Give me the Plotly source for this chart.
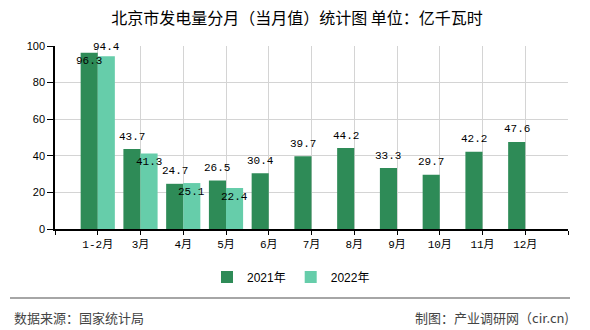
import plotly.graph_objects as go

# ---- data ----
categories = ["1-2月", "3月", "4月", "5月", "6月", "7月", "8月", "9月", "10月", "11月", "12月"]
values_2021 = [96.3, 43.7, 24.7, 26.5, 30.4, 39.7, 44.2, 33.3, 29.7, 42.2, 47.6]
values_2022 = [94.4, 41.3, 25.1, 22.4, None, None, None, None, None, None, None]
series_names = ["2021年", "2022年"]
y_ticks = [0, 20, 40, 60, 80, 100]

title_text = "北京市发电量分月（当月值）统计图 单位：亿千瓦时"
source_text = "数据来源：国家统计局"
maker_text = "制图：产业调研网（cir.cn)"

# ---- style ----
colors = ["#2E8B57", "#66CDAA"]
W, H = 590, 330
L, R, T, B = 55, 22, 46, 101
plot_w, plot_h = W - L - R, H - T - B

def px_x(p):
    return (p - L) / plot_w

def px_y(p):
    return (H - B - p) / plot_h

xs = list(range(len(categories)))
label_font = dict(family="Liberation Mono, Noto Sans CJK SC", size=11, color="#000")

fig = go.Figure()
for name, vals, col in zip(series_names, [values_2021, values_2022], colors):
    fig.add_trace(go.Bar(x=xs, y=vals, name=name, marker=dict(color=col, line=dict(width=0))))

# value labels (default offsets in px; first group adjusted as in the reference)
shift_default = [12.5, -8.5]
shift_special = {(0, 0): -8.5, (1, 0): 9}
offsets = [-0.2, 0.2]
annotations = []
for s, vals in enumerate([values_2021, values_2022]):
    for i, v in enumerate(vals):
        if v is None:
            continue
        annotations.append(dict(
            x=xs[i] + offsets[s], y=v, xref="x", yref="y", text=f"{v}",
            showarrow=False, xanchor="center", yanchor="middle",
            yshift=shift_special.get((s, i), shift_default[s]), font=label_font))

annotations.append(dict(x=px_x(12), y=px_y(317), xref="paper", yref="paper", text=source_text,
                        showarrow=False, xanchor="left", yanchor="middle",
                        font=dict(family="Noto Sans CJK SC", size=13, color="#444")))
annotations.append(dict(x=px_x(571), y=px_y(317), xref="paper", yref="paper", text=maker_text,
                        showarrow=False, xanchor="right", yanchor="middle",
                        font=dict(family="Noto Sans CJK SC", size=13, color="#444")))

shapes = [
    dict(type="line", xref="paper", yref="paper", x0=px_x(10), x1=px_x(570), y0=px_y(298), y1=px_y(298),
         line=dict(color="#888", width=1.5)),
]

tickvals = [-1] + xs + [len(xs)]
ticktext = [""] + categories + [""]

fig.update_layout(
    width=W, height=H,
    margin=dict(l=L, r=R, t=T, b=B, pad=0),
    paper_bgcolor="white", plot_bgcolor="white",
    barmode="group", bargap=0.2, bargroupgap=0,
    title=dict(text=title_text, x=297 / W, xref="container", xanchor="center",
               y=1 - 18 / H, yref="container", yanchor="middle",
               font=dict(family="Noto Sans CJK SC", size=16, color="#000")),
    xaxis=dict(range=[-1, len(xs)], tickvals=tickvals, ticktext=ticktext,
               showgrid=True, gridcolor="#d4d4d4", gridwidth=1,
               showline=True, linecolor="#000", linewidth=1.5,
               ticks="outside", ticklen=4, tickcolor="#000",
               tickfont=dict(family="Liberation Mono, Noto Sans CJK SC", size=11, color="#000"),
               zeroline=False),
    yaxis=dict(range=[0, 100], tickvals=y_ticks,
               showgrid=True, gridcolor="#d4d4d4", gridwidth=1,
               showline=True, linecolor="#000", linewidth=1.5,
               ticks="outside", ticklen=6, tickcolor="#000",
               tickfont=dict(family="Liberation Sans", size=11, color="#000"),
               zeroline=False),
    legend=dict(orientation="h", x=px_x(291), xanchor="center", y=px_y(277), yanchor="middle",
                font=dict(family="Liberation Sans, Noto Sans CJK SC", size=12, color="#000"),
                itemwidth=30, traceorder="normal"),
    annotations=annotations,
    shapes=shapes,
)

fig.write_html("out.html")
